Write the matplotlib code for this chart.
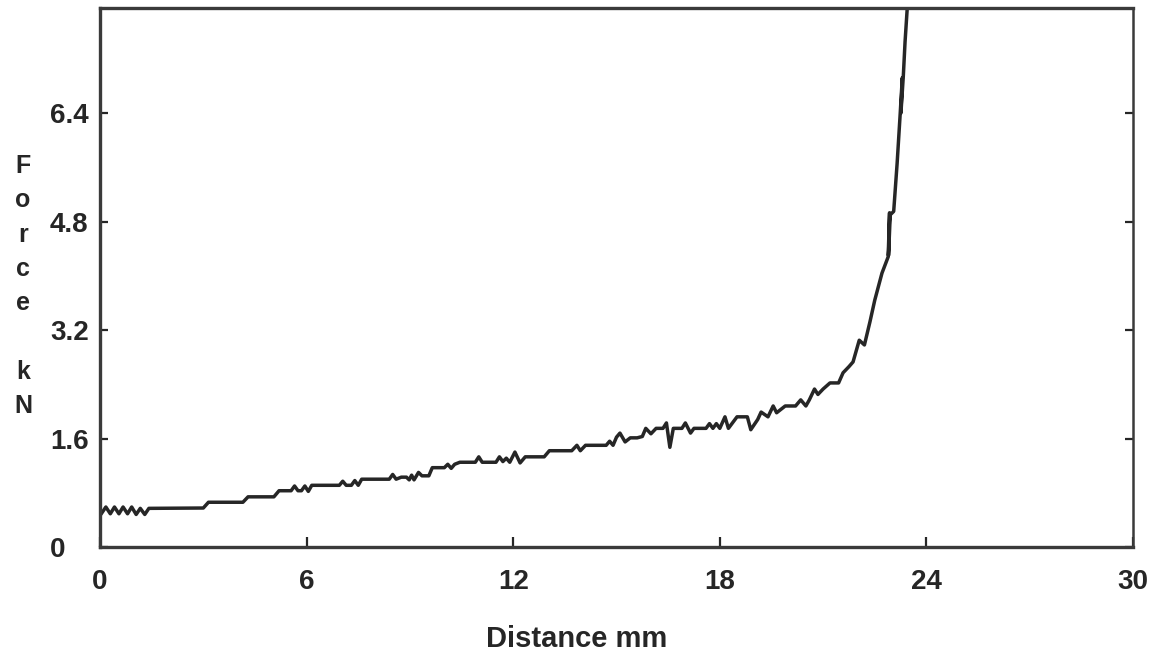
import matplotlib.pyplot as plt

# force-distance trace
distance = [0.05, 0.17, 0.30, 0.42, 0.55, 0.67, 0.80, 0.92, 1.05, 1.17, 1.30, 1.42,
            3.00, 3.15, 4.15, 4.30, 5.05, 5.20, 5.55, 5.65, 5.75, 5.85, 5.95, 6.05, 6.15,
            6.95, 7.05, 7.15, 7.30, 7.40, 7.50, 7.60, 8.40, 8.50, 8.60, 8.75, 8.90, 8.98,
            9.05, 9.12, 9.25, 9.35, 9.55, 9.65, 10.0, 10.1, 10.2, 10.3, 10.45, 10.9, 11.0,
            11.1, 11.5, 11.6, 11.7, 11.8, 11.9, 12.05, 12.2, 12.35, 12.9, 13.05, 13.7,
            13.85, 13.95, 14.1, 14.7, 14.8, 14.9, 15.0, 15.1, 15.25, 15.4, 15.6, 15.75,
            15.85, 16.0, 16.15, 16.35, 16.45, 16.55, 16.65, 16.9, 17.0, 17.15, 17.25,
            17.6, 17.7, 17.8, 17.9, 18.0, 18.15, 18.25, 18.5, 18.8, 18.9, 19.1, 19.2,
            19.4, 19.55, 19.65, 19.9, 20.2, 20.35, 20.5, 20.6, 20.75, 20.85, 21.0, 21.2,
            21.45, 21.58, 21.75, 21.87, 22.05, 22.2, 22.36, 22.5, 22.71, 22.89, 22.93,
            22.90, 22.95, 23.05, 23.15, 23.24, 23.30, 23.26, 23.33, 23.38, 23.44, 23.48]
force = [0.50, 0.59, 0.49, 0.59, 0.49, 0.59, 0.49, 0.59, 0.48, 0.57, 0.48, 0.57,
         0.575, 0.66, 0.66, 0.74, 0.74, 0.83, 0.83, 0.90, 0.83, 0.83, 0.90, 0.82, 0.91,
         0.91, 0.97, 0.91, 0.91, 0.98, 0.91, 1.00, 1.00, 1.07, 1.00, 1.03, 1.03, 0.99,
         1.06, 0.99, 1.10, 1.05, 1.05, 1.17, 1.17, 1.22, 1.16, 1.22, 1.25, 1.25, 1.33,
         1.25, 1.25, 1.33, 1.26, 1.31, 1.25, 1.40, 1.24, 1.33, 1.33, 1.42, 1.42,
         1.50, 1.42, 1.50, 1.50, 1.56, 1.50, 1.62, 1.68, 1.55, 1.61, 1.61, 1.63,
         1.75, 1.67, 1.75, 1.75, 1.83, 1.47, 1.75, 1.75, 1.83, 1.68, 1.75,
         1.75, 1.82, 1.75, 1.82, 1.75, 1.92, 1.75, 1.92, 1.92, 1.73, 1.88, 1.99,
         1.92, 2.08, 1.98, 2.08, 2.08, 2.17, 2.08, 2.17, 2.33, 2.25, 2.33, 2.42,
         2.42, 2.57, 2.66, 2.73, 3.05, 2.98, 3.32, 3.64, 4.04, 4.28, 4.93,
         4.30, 4.90, 4.95, 5.66, 6.40, 6.92, 6.40, 6.95, 7.45, 7.92, 8.30]

x_ticks = [0, 6, 12, 18, 24, 30]
y_ticks = [0, 1.6, 3.2, 4.8, 6.4]
y_tick_labels = ['0', '1.6', '3.2', '4.8', '6.4']

fig = plt.figure(figsize=(11.7, 6.56), dpi=100)
ax = fig.add_axes([100 / 1170, 109 / 656, 1033 / 1170, 539 / 656])

ink = '#262626'
ax.plot(distance, force, color=ink, linewidth=2.5, solid_joinstyle='round')

ax.set_xlim(0, 30)
ax.set_ylim(0, 7.95)

for side, s in ax.spines.items():
    s.set_color('#3a3a3a')
    s.set_linewidth(2.4)
ax.spines['right'].set_linewidth(1.8)

ax.set_xticks(x_ticks)
ax.set_xticklabels([str(v) for v in x_ticks])
ax.set_yticks(y_ticks)
ax.set_yticklabels(y_tick_labels)

ax.tick_params(axis='x', direction='in', length=7, width=1.6, color=ink,
               pad=16, labelsize=20, labelcolor=ink)
ax.tick_params(axis='y', direction='in', length=6, width=1.6, color=ink,
               left=True, right=True, pad=36, labelsize=20, labelcolor=ink)
for lab in ax.get_xticklabels() + ax.get_yticklabels():
    lab.set_fontweight('bold')
    lab.set_fontfamily('Liberation Sans')
for lab in ax.get_yticklabels():
    lab.set_horizontalalignment('left')

# stacked y label
base = 173
for ch in 'Force kN':
    if ch != ' ':
        fig.text(23 / 1170, 1 - base / 656, ch, ha='center', va='baseline',
                 fontsize=18, fontweight='bold', family='Liberation Sans', color=ink)
    base += 34.3

fig.text(577 / 1170, 1 - 647 / 656, 'Distance mm', ha='center', va='baseline',
         fontsize=21, fontweight='bold', family='Liberation Sans', color=ink)

fig.savefig('out.png', dpi=100, facecolor='white')
